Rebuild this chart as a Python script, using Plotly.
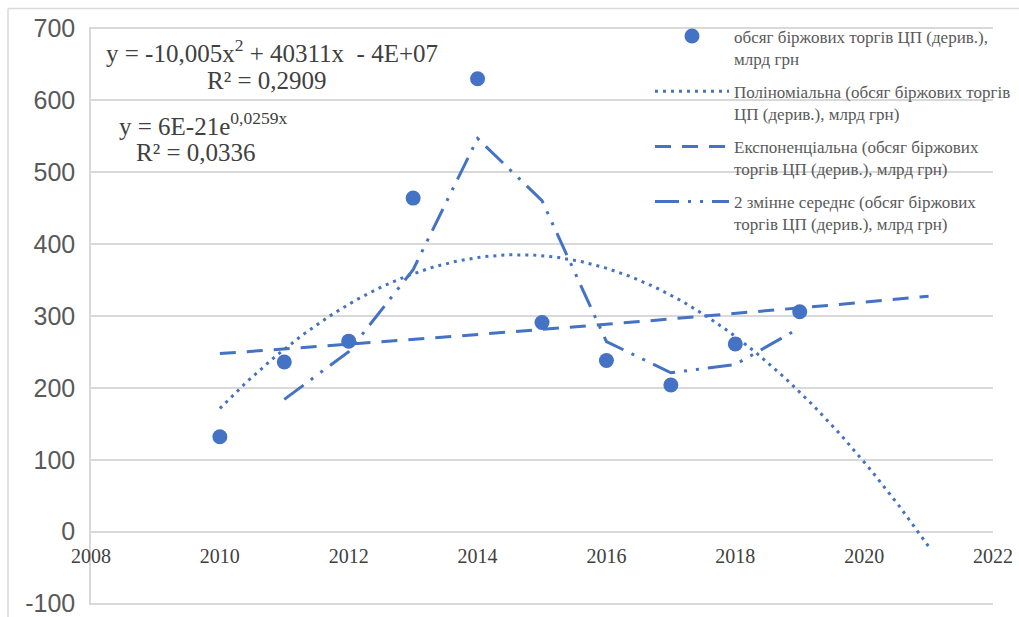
import numpy as np
import plotly.graph_objects as go

years = [2010, 2011, 2012, 2013, 2014, 2015, 2016, 2017, 2018, 2019]
volume = [132, 236, 265, 464, 630, 291, 238, 204, 261, 306]

name_pts = "обсяг біржових торгів ЦП (дерив.),<br>млрд грн"
name_poly = "Поліноміальна (обсяг біржових торгів<br>ЦП (дерив.), млрд грн)"
name_exp = "Експоненціальна (обсяг біржових<br>торгів ЦП (дерив.), млрд грн)"
name_ma = "2 змінне середнє (обсяг біржових<br>торгів ЦП (дерив.), млрд грн)"

eq_poly = ["y = -10,005x<sup>2</sup> + 40311x  - 4E+07", "R² = 0,2909"]
eq_exp = ["y = 6E-21e<sup>0,0259x</sup>", "R² = 0,0336"]

x_ticks = [2008, 2010, 2012, 2014, 2016, 2018, 2020, 2022]
y_ticks = [-100, 0, 100, 200, 300, 400, 500, 600, 700]
y_labels = ["-100", "0", "100", "200", "300", "400", "500", "600", "700"]

BLUE = "#4472C4"

# trendlines (least-squares, as the spreadsheet does), forecast 2 periods forward
xa = np.array(years, dtype=float)
ya = np.array(volume, dtype=float)
x0 = xa.mean()
trend_x = np.linspace(2010, 2021, 200)
pc = np.polyfit(xa - x0, ya, 2)
poly_y = np.polyval(pc, trend_x - x0)
ec = np.polyfit(xa - x0, np.log(ya), 1)
exp_y = np.exp(np.polyval(ec, trend_x - x0))

ma_x = years[1:]
ma_y = [(volume[i - 1] + volume[i]) / 2 for i in range(1, len(volume))]

fig = go.Figure()
fig.add_trace(go.Scatter(x=years, y=volume, mode="markers", name=name_pts,
                         legendgroup="a",
                         marker=dict(color=BLUE, size=15)))
fig.add_trace(go.Scatter(x=trend_x, y=poly_y, mode="lines", name=name_poly,
                         legendgroup="b",
                         line=dict(color=BLUE, width=3, dash="3px,5px")))
fig.add_trace(go.Scatter(x=trend_x, y=exp_y, mode="lines", name=name_exp,
                         legendgroup="c",
                         line=dict(color=BLUE, width=3, dash="16px,11px")))
fig.add_trace(go.Scatter(x=ma_x, y=ma_y, mode="lines", name=name_ma,
                         legendgroup="d",
                         line=dict(color=BLUE, width=3,
                                   dash="24px,9px,3px,9px,3px,9px")))

W, H = 1019, 617
# y range padded slightly so the -100 and 700 grid lines are drawn
Y_RANGE = [-102, 702]
K = (604 - 28) / 800.0  # px per unit
PL, PR = 91, 993
PT = 28 - (Y_RANGE[1] - 700) * K
PB = 604 + (-100 - Y_RANGE[0]) * K
L, R, T, B = PL, W - PR, PT, H - PB


def px(xp):
    return (xp - PL) / (PR - PL)


def py(yp):
    return (PB - yp) / (PB - PT)


annos = []
ser = "Liberation Serif, Times New Roman, serif"
annos.append(dict(x=px(272), y=py(51), text=eq_poly[0]))
annos.append(dict(x=px(267), y=py(80), text=eq_poly[1]))
annos.append(dict(x=px(117), y=py(124), text=eq_exp[0], xanchor="left"))
annos.append(dict(x=px(134), y=py(152), text=eq_exp[1], xanchor="left"))
for a in annos:
    a.setdefault("xanchor", "center")
    a.update(xref="paper", yref="paper", yanchor="middle", showarrow=False,
             font=dict(family=ser, size=25, color="#404040"))

fig.update_layout(
    width=W, height=H,
    margin=dict(l=L, r=R, t=T, b=B, autoexpand=False),
    paper_bgcolor="white", plot_bgcolor="white",
    showlegend=True,
    legend=dict(x=px(650), y=py(18), xanchor="left", yanchor="top",
                bgcolor="rgba(0,0,0,0)", valign="top",
                font=dict(family=ser, size=17, color="#595959"),
                itemwidth=74, tracegroupgap=8, traceorder="grouped"),
    xaxis=dict(range=[2008, 2022], tickvals=x_ticks, showgrid=False,
               zeroline=False, showline=False, anchor="free",
               position=py(532), ticklabeloverflow="allow",
               ticks="outside", ticklen=6, tickcolor="rgba(0,0,0,0)",
               tickfont=dict(family=ser, size=20, color="#404040")),
    yaxis=dict(range=Y_RANGE, tickvals=y_ticks, ticktext=y_labels,
               showgrid=True, ticklabeloverflow="allow",
               gridcolor="#D9D9D9", gridwidth=1.5, zeroline=False,
               showline=True, linecolor="#D9D9D9", linewidth=1.5,
               ticks="", ticklabelstandoff=9,
               tickfont=dict(family="Liberation Sans, Arial, sans-serif",
                             size=25, color="#595959")),
    annotations=annos,
    shapes=[dict(type="line", xref="paper", yref="paper",
                 x0=px(8), x1=px(1030), y0=py(8), y1=py(8),
                 line=dict(color="#D9D9D9", width=1.5)),
            dict(type="line", xref="paper", yref="paper",
                 x0=px(8), x1=px(8), y0=py(8), y1=py(630),
                 line=dict(color="#D9D9D9", width=1.5))],
)

fig.write_html("out.html",
               config={"displayModeBar": False},
               post_script="document.body.style.margin='0';"
                           "document.body.style.overflow='hidden';")
